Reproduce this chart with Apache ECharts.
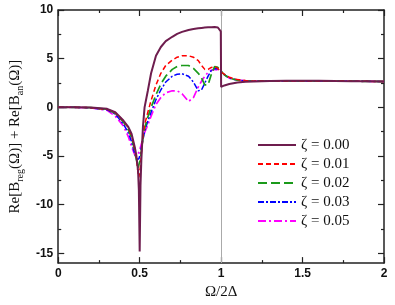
<!DOCTYPE html>
<html><head><meta charset="utf-8">
<script src="https://cdn.jsdelivr.net/npm/echarts@6/dist/echarts.min.js"></script>
<style>html,body{margin:0;padding:0;background:#fff}#c{width:395px;height:305px}</style>
</head><body><div id="c"></div>
<script>
var xs = [0, 0.1, 0.2, 0.3, 0.35, 0.4, 0.43, 0.45, 0.47, 0.48, 0.49, 0.495, 0.5, 0.505, 0.51, 0.52, 0.53, 0.55, 0.57, 0.6, 0.63, 0.66, 0.7, 0.73, 0.76, 0.8, 0.83, 0.86, 0.88, 0.9, 0.92, 0.94, 0.96, 0.98, 0.99, 0.998, 1.0, 1.005, 1.02, 1.05, 1.1, 1.15, 1.2, 1.3, 1.4, 1.5, 1.6, 1.7, 1.8, 1.9, 2.0];
var z000 = [0, 0, -0.02, -0.15, -0.5, -1.35, -2.0, -2.7, -4.1, -5.0, -6.5, -8.5, -14.8, -8.0, -5.5, -2.0, 0.0, 1.7, 3.5, 5.3, 6.2, 6.8, 7.25, 7.55, 7.75, 7.95, 8.05, 8.12, 8.16, 8.2, 8.22, 8.24, 8.25, 8.2, 8.1, 7.8, 2.1, 2.15, 2.25, 2.4, 2.55, 2.62, 2.66, 2.7, 2.72, 2.73, 2.72, 2.7, 2.69, 2.67, 2.65];
var z001 = [0, 0, -0.03, -0.2, -0.55, -1.4, -2.1, -2.9, -4.3, -5.3, -6.8, -7.2, -7.0, -6.0, -4.8, -3.0, -1.8, -0.5, 0.7, 2.3, 3.5, 4.3, 4.85, 5.15, 5.3, 5.3, 5.15, 4.8, 4.3, 3.9, 3.9, 4.1, 4.2, 4.0, 3.8, 3.65, 3.6, 3.55, 3.4, 3.1, 2.85, 2.75, 2.7, 2.7, 2.71, 2.72, 2.71, 2.7, 2.69, 2.67, 2.65];
var z002 = [0, 0, -0.03, -0.2, -0.6, -1.5, -2.3, -3.1, -4.5, -5.4, -6.2, -6.3, -6.0, -5.3, -4.5, -3.2, -2.2, -1.0, 0.0, 1.3, 2.4, 3.2, 3.9, 4.2, 4.3, 4.3, 4.0, 3.5, 3.0, 2.3, 2.3, 3.4, 4.2, 4.1, 3.9, 3.75, 3.7, 3.6, 3.35, 3.0, 2.8, 2.72, 2.69, 2.7, 2.71, 2.72, 2.71, 2.7, 2.69, 2.67, 2.65];
var z003 = [0, 0, -0.04, -0.25, -0.7, -1.7, -2.6, -3.5, -4.8, -5.3, -5.4, -5.3, -5.1, -4.7, -4.2, -3.3, -2.5, -1.4, -0.5, 0.8, 1.8, 2.6, 3.2, 3.4, 3.45, 3.2, 2.6, 1.7, 1.8, 2.5, 3.2, 3.8, 4.0, 3.95, 3.85, 3.75, 3.7, 3.6, 3.35, 3.0, 2.8, 2.72, 2.69, 2.7, 2.71, 2.72, 2.71, 2.7, 2.69, 2.67, 2.65];
var z005 = [0, 0, -0.05, -0.3, -0.9, -1.9, -3.0, -4.0, -4.9, -5.0, -4.8, -4.6, -4.4, -4.1, -3.8, -3.2, -2.6, -1.8, -0.9, 0.3, 1.0, 1.5, 1.7, 1.7, 1.4, 0.6, 1.0, 2.1, 2.7, 3.2, 3.6, 3.8, 3.9, 3.85, 3.8, 3.72, 3.7, 3.6, 3.35, 3.0, 2.8, 2.72, 2.69, 2.7, 2.71, 2.72, 2.71, 2.7, 2.69, 2.67, 2.65];
var names = ['ζ = 0.00', 'ζ = 0.01', 'ζ = 0.02', 'ζ = 0.03', 'ζ = 0.05'];
var yMajor = [-15, -10, -5, 0, 5, 10];
var yMinor = [-12.5, -7.5, -2.5, 2.5, 7.5];

function pairs(ys) { return xs.map(function (x, i) { return [x, ys[i]]; }); }
var sets = [z000, z001, z002, z003, z005];
var colors = ['#6e1d4e', '#ff0000', '#1a9a1a', '#0000ff', '#ff00ff'];
var dashes = ['solid', [5, 3], [9, 4], [6, 2, 2, 2], [8, 3, 2, 3]];
var widths = [2, 1.5, 1.7, 1.5, 1.7];

var chart = echarts.init(document.getElementById('c'), null, {renderer: 'canvas'});
var lab = {fontFamily: 'Liberation Sans', fontWeight: 'bold', fontSize: 12, color: '#111'};
var axLine = {show: true, onZero: false, lineStyle: {color: '#222', width: 1.5}};
var series = sets.map(function (s, i) {
  return {
    name: names[i], type: 'line', data: pairs(s), symbol: 'none', smooth: false,
    lineStyle: {color: colors[i], width: widths[i], type: dashes[i]},
    itemStyle: {color: colors[i]}, z: 10 - i
  };
});
series[0].z = 12;
series[0].markLine = {
  silent: true, symbol: 'none', label: {show: false},
  lineStyle: {color: '#aaa', type: 'solid', width: 1}, z: 1,
  data: [{xAxis: 1}]
};

chart.setOption({
  animation: false,
  grid: {left: 48, right: 11, top: 10, bottom: 41},
  xAxis: [
    {type: 'value', min: 0, max: 2, interval: 0.5, position: 'bottom',
     axisLine: axLine, splitLine: {show: false},
     axisTick: {inside: true, length: 6, lineStyle: {color: '#222', width: 1.2}},
     minorTick: {show: true, splitNumber: 2, length: 3, lineStyle: {color: '#222', width: 1.2}},
     axisLabel: Object.assign({margin: 5}, lab),
     name: 'Ω/2Δ', nameLocation: 'middle', nameGap: 18,
     nameTextStyle: {fontFamily: 'Liberation Serif', fontSize: 15, color: '#111'}},
    {type: 'value', min: 0, max: 2, interval: 0.5, position: 'top',
     axisLine: axLine, splitLine: {show: false},
     axisTick: {inside: true, length: 6, lineStyle: {color: '#222', width: 1.2}},
     minorTick: {show: true, splitNumber: 2, length: 3, lineStyle: {color: '#222', width: 1.2}},
     axisLabel: {show: false}}
  ],
  yAxis: [
    {type: 'value', min: -16, max: 10, position: 'left',
     axisLine: axLine, splitLine: {show: false},
     axisTick: {inside: true, length: 6, customValues: yMajor, lineStyle: {color: '#222', width: 1.2}},
     axisLabel: Object.assign({margin: 5, customValues: yMajor}, lab),
     name: '{n|Re[B}{s|reg}{n|(Ω)] + Re[B}{s|an}{n|(Ω)]}', nameLocation: 'middle', nameGap: 30,
     nameTextStyle: {rich: {
       n: {fontFamily: 'Liberation Serif', fontSize: 15, color: '#111'},
       s: {fontFamily: 'Liberation Serif', fontSize: 10, color: '#111', padding: [9, 0, 0, 0]}
     }}},
    {type: 'value', min: -16, max: 10, position: 'left',
     axisLine: {show: false, onZero: false}, splitLine: {show: false},
     axisTick: {inside: true, length: 3, customValues: yMinor, lineStyle: {color: '#222', width: 1.2}},
     axisLabel: {show: false}},
    {type: 'value', min: -16, max: 10, position: 'right',
     axisLine: axLine, splitLine: {show: false},
     axisTick: {inside: true, length: 6, customValues: yMajor, lineStyle: {color: '#222', width: 1.2}},
     axisLabel: {show: false}},
    {type: 'value', min: -16, max: 10, position: 'right',
     axisLine: {show: false, onZero: false}, splitLine: {show: false},
     axisTick: {inside: true, length: 3, customValues: yMinor, lineStyle: {color: '#222', width: 1.2}},
     axisLabel: {show: false}}
  ],
  legend: {
    orient: 'vertical', left: 252, top: 132, itemWidth: 38, itemHeight: 10, itemGap: 3,
    itemStyle: {opacity: 0},
    textStyle: {fontFamily: 'Liberation Serif', fontSize: 15, color: '#111', lineHeight: 16},
    data: names
  },
  series: series
});
</script></body></html>
